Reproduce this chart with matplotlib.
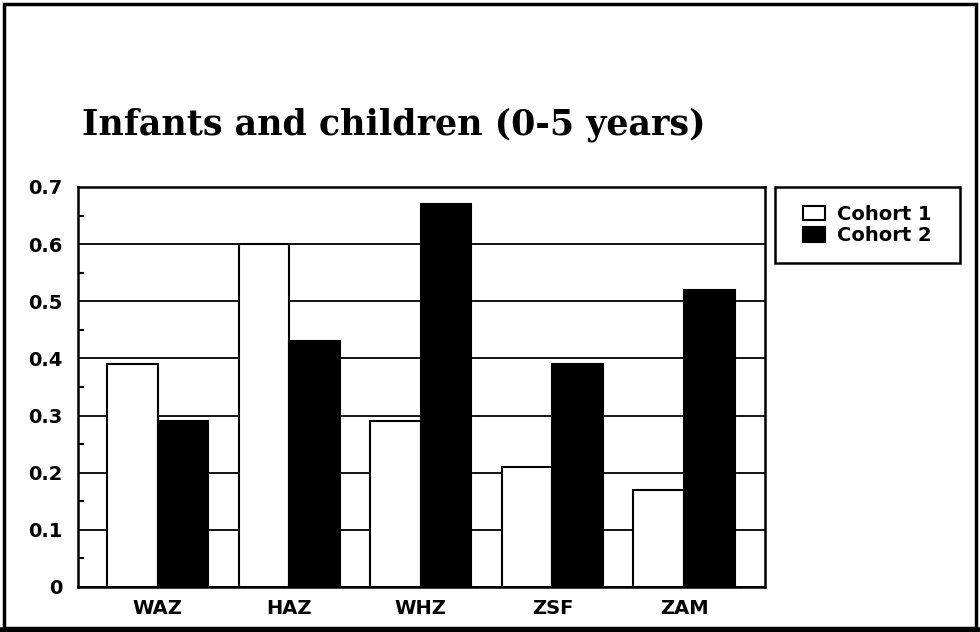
import numpy as np
import matplotlib.pyplot as plt
from matplotlib.patches import Rectangle
from matplotlib.lines import Line2D

categories = ['WAZ', 'HAZ', 'WHZ', 'ZSF', 'ZAM']
cohort1 = [0.39, 0.60, 0.29, 0.21, 0.17]
cohort2 = [0.29, 0.43, 0.67, 0.39, 0.52]
yticks = [0, 0.1, 0.2, 0.3, 0.4, 0.5, 0.6, 0.7]
ytick_labels = ['0', '0.1', '0.2', '0.3', '0.4', '0.5', '0.6', '0.7']
title = 'Infants and children (0-5 years)'

W, H = 980, 632
fig = plt.figure(figsize=(W / 100, H / 100), dpi=100)
ax = fig.add_axes([78 / W, 1 - 587 / H, 687 / W, 400 / H])

x = np.arange(len(categories))
w = 0.384
ax.bar(x - w / 2, cohort1, w, color='white', edgecolor='black', linewidth=1.5,
       label='Cohort 1', zorder=3)
ax.bar(x + w / 2, cohort2, w, color='black', edgecolor='black', linewidth=1.5,
       label='Cohort 2', zorder=3)

ax.set_xlim(-0.604, 4.615)
ax.set_ylim(0, 0.7)
ax.set_yticks(yticks)
ax.set_yticklabels(ytick_labels)
ax.set_yticks(np.arange(0.05, 0.7, 0.1), minor=True)
ax.set_xticks(x)
ax.set_xticklabels(categories)
ax.set_xticks(x + w, minor=True)
ax.yaxis.grid(True, color='black', linewidth=1.3, zorder=0)
ax.set_axisbelow(True)
ax.tick_params(axis='y', which='major', length=0, pad=11)
ax.tick_params(axis='y', which='minor', direction='in', length=4, width=1.5)
ax.tick_params(axis='x', which='major', length=0, pad=9)
ax.tick_params(axis='x', which='minor', direction='in', length=3, width=1.2)
for lab in ax.get_xticklabels() + ax.get_yticklabels():
    lab.set_fontfamily('DejaVu Sans')
    lab.set_fontweight('bold')
    lab.set_fontsize(14)
for s in ax.spines.values():
    s.set_linewidth(1.8)

# legend box 775..960 x 187..263 px
leg = fig.legend(loc='center', bbox_to_anchor=(775 / W, 1 - 263 / H, 185 / W, 76 / H),
                 prop={'family': 'DejaVu Sans', 'weight': 'bold', 'size': 14},
                 frameon=False, handlelength=1.13, handleheight=0.77,
                 handletextpad=0.6, labelspacing=0.12, borderpad=0, borderaxespad=0)
fig.patches.append(Rectangle((775 / W, 1 - 263 / H), 185 / W, 76 / H,
                             transform=fig.transFigure, fill=False,
                             edgecolor='black', linewidth=1.8))

t = fig.text(82 / W, 1 - 135 / H, title, fontfamily='DejaVu Serif',
             fontweight='bold', fontsize=26, va='baseline', ha='left')
fig.canvas.draw()
bb = t.get_window_extent()
t.set_fontsize(26 * 626 / bb.width)

# outer frame
fig.patches.append(Rectangle((4 / W, 4 / H), 972 / W, 624 / H, transform=fig.transFigure,
                             fill=False, edgecolor='black', linewidth=2.5))
fig.lines.append(Line2D([0, 1], [2 / H, 2 / H], transform=fig.transFigure,
                        color='black', linewidth=4))

fig.savefig('out.png', dpi=100)
plt.close()
